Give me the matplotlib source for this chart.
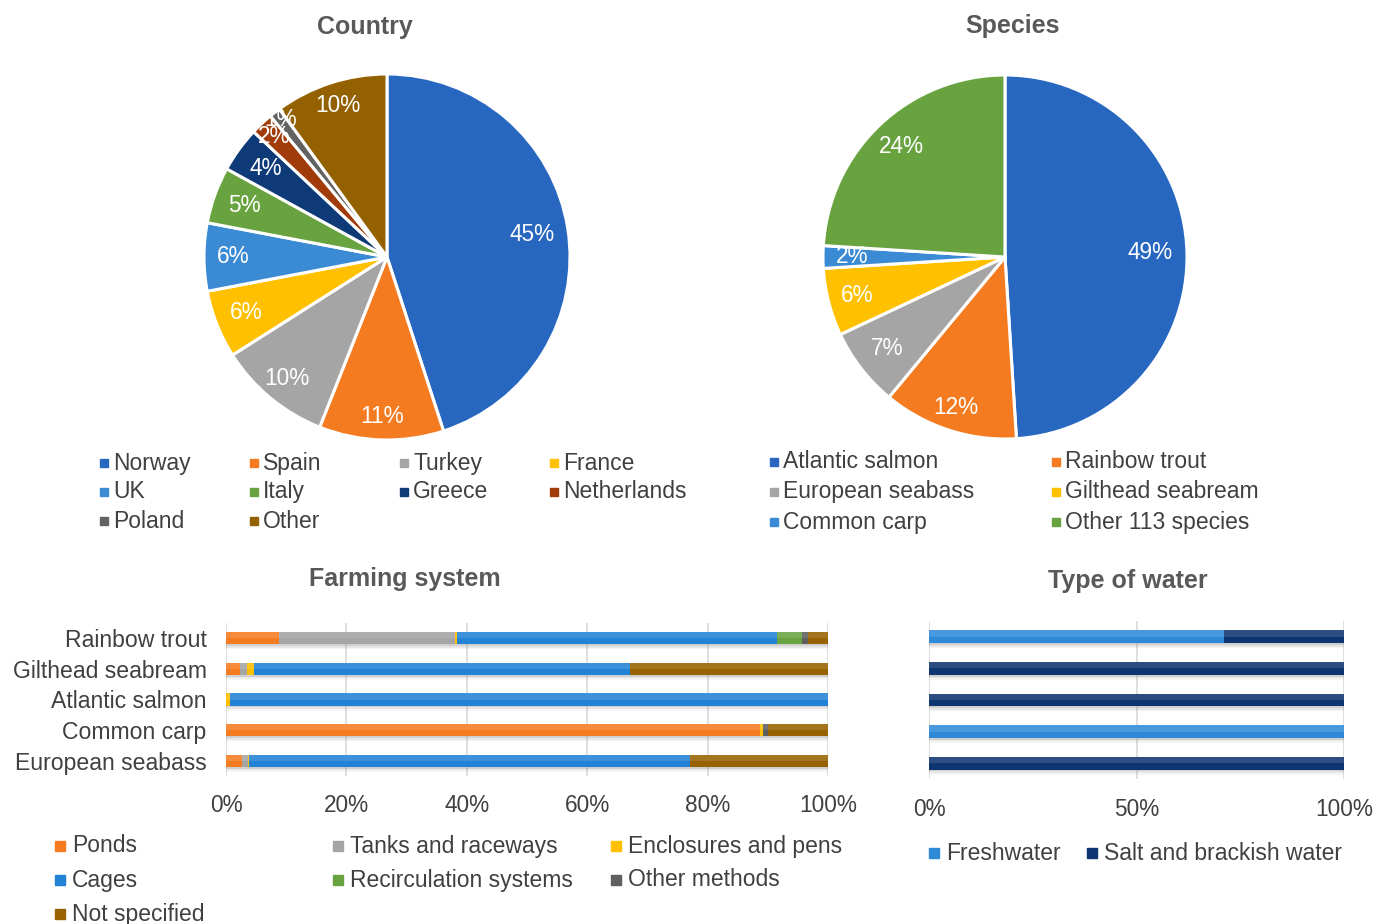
import numpy as np
import matplotlib.pyplot as plt
from matplotlib.patches import Rectangle

plt.rcParams['font.family'] = ['Liberation Sans', 'DejaVu Sans']

W, H = 1374, 924
TEXT = '#404040'
TITLE = '#595959'

# ---- data ----
countries = ['Norway', 'Spain', 'Turkey', 'France', 'UK', 'Italy', 'Greece',
             'Netherlands', 'Poland', 'Other']
country_pct = [45, 11, 10, 6, 6, 5, 4, 2, 1, 10]
country_colors = ['#2767c0', '#f47b20', '#a5a5a5', '#ffc000', '#3b8bd4',
                  '#68a340', '#0f3a78', '#a13c0a', '#626262', '#936100']

species = ['Atlantic salmon', 'Rainbow trout', 'European seabass',
           'Gilthead seabream', 'Common carp', 'Other 113 species']
species_pct = [49, 12, 7, 6, 2, 24]
species_colors = ['#2767c0', '#f47b20', '#a5a5a5', '#ffc000', '#3b8bd4', '#68a340']

fish = ['Rainbow trout', 'Gilthead seabream', 'Atlantic salmon',
        'Common carp', 'European seabass']
systems = ['Ponds', 'Tanks and raceways', 'Enclosures and pens', 'Cages',
           'Recirculation systems', 'Other methods', 'Not specified']
system_colors = ['#f47b20', '#a5a5a5', '#ffc000', '#2282d6', '#68a340',
                 '#5f5f5f', '#986200']
# share of each farming system per species (%), rows follow `fish`
system_share = np.array([
    [8.8, 29.2, 0.3, 53.3, 4.1, 0.9, 3.4],
    [2.3, 1.2, 1.1, 62.5, 0.0, 0.0, 32.9],
    [0.0, 0.0, 0.7, 99.3, 0.0, 0.0, 0.0],
    [88.7, 0.0, 0.5, 0.0, 0.0, 0.8, 10.0],
    [2.6, 1.0, 0.3, 73.1, 0.0, 0.0, 23.0],
])

waters = ['Freshwater', 'Salt and brackish water']
water_colors = ['#2e8ad8', '#0e3571']
water_share = np.array([
    [71.1, 28.9],
    [0.0, 100.0],
    [0.0, 100.0],
    [100.0, 0.0],
    [0.0, 100.0],
])


def fig_box(x0, y0, x1, y1):
    # pixel box (top-left origin) -> figure fraction rect
    return [x0 / W, 1 - y1 / H, (x1 - x0) / W, (y1 - y0) / H]


def fig_title(x, y, s):
    fig.text(x / W, 1 - y / H, s, ha='center', va='center', fontsize=18,
             fontweight='bold', color=TITLE)


def square_legend(labels, colors, x0, y0, dx, dy, ncol, msize=8, tgap=13):
    for i, (lab, col) in enumerate(zip(labels, colors)):
        r, c = divmod(i, ncol)
        x = x0 + c * dx
        y = y0 + r * dy
        fig.patches.append(Rectangle(((x - msize) / W, 1 - (y + msize / 2) / H),
                                     msize / W, msize / H, color=col,
                                     transform=fig.transFigure, figure=fig))
        fig.text((x - msize + tgap) / W, 1 - y / H, lab, ha='left', va='center',
                 fontsize=16.5, color=TEXT)


def draw_pie(ax, values, colors, label_r):
    wedges, _ = ax.pie(values, colors=colors, startangle=90, counterclock=False,
                       radius=1, wedgeprops=dict(edgecolor='white', linewidth=2.2))
    for w, v, r in zip(wedges, values, label_r):
        ang = np.deg2rad((w.theta1 + w.theta2) / 2)
        ax.text(r * np.cos(ang), r * np.sin(ang), f'{v}%', ha='center',
                va='center', fontsize=16.3, color='white')
    ax.set_xlim(-1, 1)
    ax.set_ylim(-1, 1)
    ax.set_aspect('equal')


def draw_bars(ax, share, colors, ticks, ticklabels, show_names, xpad):
    y = np.arange(len(fish))
    h = 0.4
    # soft drop shadow under each bar
    for off, a in [(0.06, 0.2), (0.11, 0.13), (0.16, 0.07)]:
        ax.barh(y + off, share.sum(axis=1), height=h, color='#7f7f7f',
                alpha=a, zorder=2, linewidth=0)
    left = np.zeros(len(fish))
    for j, col in enumerate(colors):
        ax.barh(y, share[:, j], left=left, height=h, color=col, zorder=3,
                linewidth=0)
        left += share[:, j]
    # light sheen on the upper half
    ax.barh(y - h / 4, share.sum(axis=1), height=h / 2, color='white',
            alpha=0.12, zorder=4, linewidth=0)
    ax.set_xlim(0, 100)
    ax.set_ylim(len(fish) - 0.5, -0.5)
    ax.set_xticks(ticks)
    ax.set_xticklabels(ticklabels)
    ax.set_yticks(y)
    ax.set_yticklabels(fish if show_names else [])
    ax.tick_params(length=0, labelsize=16.3, labelcolor=TEXT)
    ax.tick_params(axis='x', pad=xpad)
    ax.tick_params(axis='y', labelsize=16.6, pad=14)
    ax.grid(axis='x', color='#d9d9d9', linewidth=1.2, zorder=0)
    ax.set_axisbelow(True)
    for s in ax.spines.values():
        s.set_visible(False)


fig = plt.figure(figsize=(W / 100, H / 100), dpi=100)

# ---- pies ----
ax1 = fig.add_axes(fig_box(204, 74, 570, 440))
draw_pie(ax1, country_pct, country_colors,
         [0.8, 0.87, 0.86, 0.83, 0.84, 0.83, 0.82, 0.9, 0.95, 0.87])
fig_title(365, 27, 'Country')
square_legend(countries, country_colors, 108, 463, 150, 29, 4)

ax2 = fig.add_axes(fig_box(823, 75, 1187, 439))
draw_pie(ax2, species_pct, species_colors, [0.8, 0.87, 0.82, 0.84, 0.84, 0.83])
fig_title(1013, 26, 'Species')
square_legend(species, species_colors, 778, 462, 282, 30, 2)

# ---- stacked bars ----
ax3 = fig.add_axes(fig_box(226, 623, 828, 776))
draw_bars(ax3, system_share, system_colors, np.arange(0, 101, 20),
          [f'{t}%' for t in range(0, 101, 20)], True, 13)
fig_title(405, 579, 'Farming system')
square_legend(systems, system_colors, 65, 846, 278, 34, 3, msize=10, tgap=17)

ax4 = fig.add_axes(fig_box(929, 621, 1344, 779))
draw_bars(ax4, water_share, water_colors, [0, 50, 100],
          ['0%', '50%', '100%'], False, 14)
fig_title(1128, 581, 'Type of water')
square_legend(waters, water_colors, 939, 853, 158, 34, 2, msize=10, tgap=17)

fig.savefig('out.png', dpi=100)
